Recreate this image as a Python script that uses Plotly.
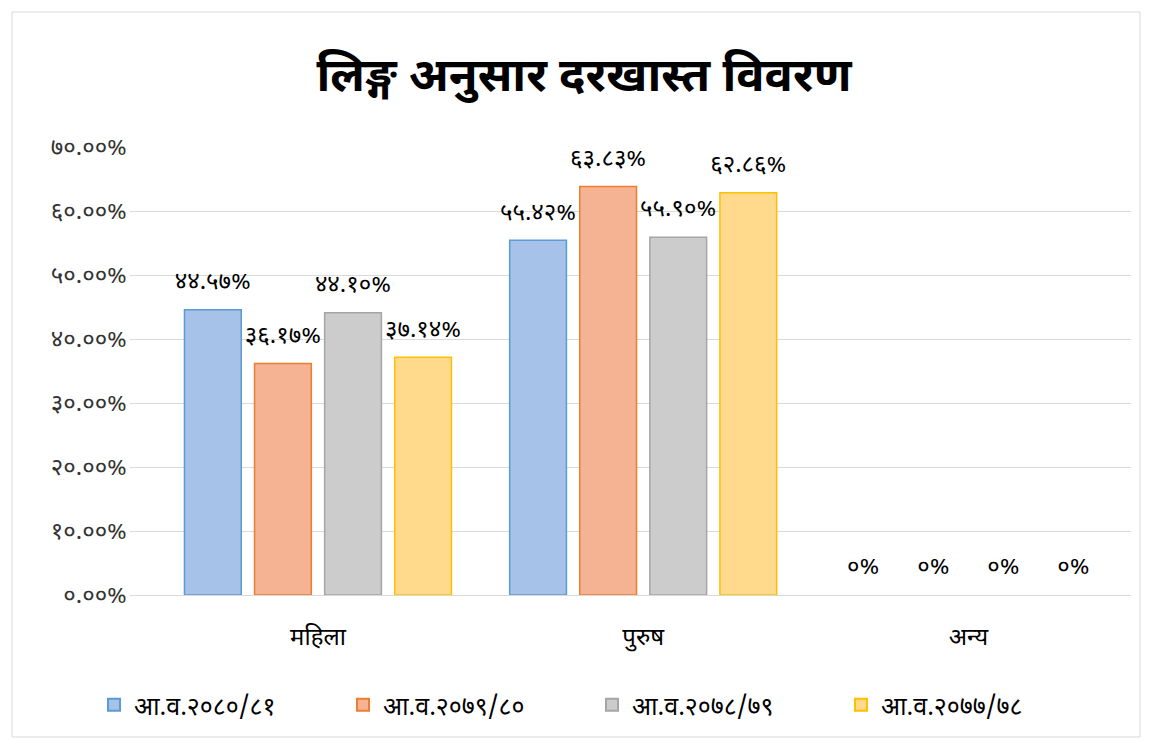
import plotly.graph_objects as go

categories = ["महिला", "पुरुष", "अन्य"]
series_names = ["आ.व.२०८०/८१", "आ.व.२०७९/८०", "आ.व.२०७८/७९", "आ.व.२०७७/७८"]
values_2080_81 = [44.57, 55.42, 0]
values_2079_80 = [36.17, 63.83, 0]
values_2078_79 = [44.10, 55.90, 0]
values_2077_78 = [37.14, 62.86, 0]
labels_2080_81 = ["४४.५७%", "५५.४२%", "०%"]
labels_2079_80 = ["३६.१७%", "६३.८३%", "०%"]
labels_2078_79 = ["४४.१०%", "५५.९०%", "०%"]
labels_2077_78 = ["३७.१४%", "६२.८६%", "०%"]
tick_vals = [0, 10, 20, 30, 40, 50, 60, 70]
tick_text = ["०.००%", "१०.००%", "२०.००%", "३०.००%", "४०.००%", "५०.००%", "६०.००%", "७०.००%"]

fills = ["#a6c2e8", "#f5b394", "#cccccc", "#ffd98c"]
borders = ["#5b9bd5", "#ed7d31", "#a5a5a5", "#ffc000"]

FONT = "Noto Sans Devanagari, Noto Sans, sans-serif"
W, H = 1145, 731  # page has an 8px body margin
L, R, T, B = 122, 22, 139, 144
PW, PH = W - L - R, H - T - B

fig = go.Figure()
all_vals = [values_2080_81, values_2079_80, values_2078_79, values_2077_78]
all_labels = [labels_2080_81, labels_2079_80, labels_2078_79, labels_2077_78]
for name, vals, fc, bc in zip(series_names, all_vals, fills, borders):
    fig.add_trace(go.Bar(
        x=categories, y=vals, name=name,
        marker=dict(color=fc, line=dict(color=bc, width=[1.5 if v > 0 else 0 for v in vals])),
        hoverinfo="skip",
    ))
for name, vals, labs in zip(series_names, all_vals, all_labels):
    fig.add_trace(go.Scatter(
        x=categories, y=vals, text=labs, mode="markers+text",
        textposition="top center", showlegend=False, hoverinfo="skip",
        marker=dict(size=22, color="rgba(0,0,0,0)"), cliponaxis=False,
        textfont=dict(size=24, color="#000000", family=FONT),
    ))

fig.update_layout(
    width=W, height=H,
    paper_bgcolor="white", plot_bgcolor="white",
    margin=dict(l=L, r=R, t=T, b=B, autoexpand=False),
    barmode="group", bargap=0.138, bargroupgap=0.19,
    scattermode="group", scattergap=0.138,
    title=dict(text="<b>लिङ्ग अनुसार दरखास्त विवरण</b>", x=(584 - 8 - L) / PW, xref="paper",
               xanchor="center", y=1 - 67 / H, yanchor="middle",
               font=dict(size=47, color="#000000", family=FONT)),
    font=dict(family=FONT, color="#000000"),
    showlegend=True,
    legend=dict(orientation="h", xref="container", yref="container",
                x=(592 - 8) / W, xanchor="center", y=1 - (705 - 8) / H, yanchor="middle",
                font=dict(size=25, color="#000000", family=FONT),
                itemsizing="constant", itemwidth=30, tracegroupgap=0,
                entrywidth=204, entrywidthmode="pixels"),
    xaxis=dict(range=[-0.578, 2.5], showgrid=False, showline=True, linecolor="#d9d9d9",
               linewidth=1, ticks="", tickfont=dict(size=24, color="#000000"),
               ticklabelstandoff=20),
    yaxis=dict(range=[0, 70], tickvals=tick_vals, ticktext=tick_text,
               showgrid=True, gridcolor="#d9d9d9", gridwidth=1, zeroline=False,
               showline=False, ticks="", tickfont=dict(size=24, color="#333333"),
               ticklabelstandoff=2),
    shapes=[dict(type="rect", xref="paper", yref="paper",
                 x0=-118 / PW, x1=1010 / PW, y0=-142 / PH, y1=1 + 135 / PH,
                 line=dict(color="#d9d9d9", width=1), fillcolor="rgba(0,0,0,0)", layer="below")],
)

fig.write_html("out.html")
